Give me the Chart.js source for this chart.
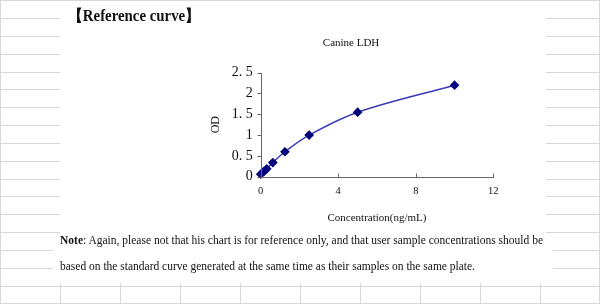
<!DOCTYPE html>
<html>
<head>
<meta charset="utf-8">
<script src="https://cdn.jsdelivr.net/npm/chart.js@4/dist/chart.umd.min.js"></script>
<style>
  html, body { margin: 0; padding: 0; background: #fff; }
  #page { position: relative; width: 600px; height: 304px; overflow: hidden; background: #fff; }
  .hl { position: absolute; height: 1px; background: #d8d8d8; }
  .vl { position: absolute; width: 1px; background: #d8d8d8; }
  #chartBox { position: absolute; left: 0; top: 0; width: 600px; height: 304px; }
  .txt { position: absolute; white-space: nowrap; font-family: "Liberation Serif", "Times New Roman", serif; color: #111; transform-origin: 0 50%; }
  #heading { left: 68px; top: 6px; font-size: 16px; font-weight: bold; }
  #note1 { left: 60px; top: 232px; font-size: 13.5px; }
  #note2 { left: 60px; top: 258px; font-size: 13.5px; }
</style>
</head>
<body>
<div id="page">
  <div id="grid"></div>
  <div id="chartBox"><canvas id="c" width="600" height="304"></canvas></div>
  <div class="txt" id="heading">【Reference curve】</div>
  <div class="txt" id="note1"><b>Note</b>: Again, please not that his chart is for reference only, and that user sample concentrations should be</div>
  <div class="txt" id="note2">based on the standard curve generated at the same time as their samples on the same plate.</div>
</div>
<script>
// ---- data ----
const concentrations = [0, 0.156, 0.312, 0.625, 1.25, 2.5, 5, 10];
const odValues = [0.06, 0.12, 0.19, 0.34, 0.60, 1.0, 1.55, 2.2];
const yTickLabels = ['0', '0. 5', '1', '1. 5', '2', '2. 5'];
const xTickLabels = ['0', '4', '8', '12'];
const chartTitle = 'Canine LDH';
const xTitle = 'Concentration(ng/mL)';
const yTitle = 'OD';

// ---- background spreadsheet grid (decoration) ----
(function () {
  const g = document.getElementById('grid');
  function add(cls, l, t, w, h) {
    const d = document.createElement('div');
    d.className = cls;
    d.style.left = l + 'px'; d.style.top = t + 'px';
    if (w != null) d.style.width = w + 'px';
    if (h != null) d.style.height = h + 'px';
    g.appendChild(d);
  }
  for (let i = 0; i < 15; i++) {
    const y = Math.round(18 + i * 17.84);
    const narrow = (i >= 13);
    add('hl', 0, y, narrow ? 53 : 60, null);
    add('hl', narrow ? 553 : 546, y, narrow ? 47 : 54, null);
  }
  add('hl', 0, 286, 600, null);
  add('hl', 0, 303, 600, null);
  add('hl', 0, 0, 600, null);
  add('vl', 0, 0, null, 304);
  add('vl', 599, 0, null, 304);
  for (let x = 60; x <= 540; x += 60) add('vl', x, 283, null, 21);
})();

// ---- fit text widths ----
function fitWidth(id, target) {
  const el = document.getElementById(id);
  const w = el.getBoundingClientRect().width;
  el.style.transform = 'scaleX(' + (target / w) + ')';
}
fitWidth('heading', 132);
fitWidth('note1', 483);
fitWidth('note2', 415);

// ---- chart ----
Chart.defaults.font.family = '"Liberation Serif", "Times New Roman", serif';
Chart.defaults.color = '#111';

const axisPlugin = {
  id: 'axisPlugin',
  afterDatasetsDraw(chart) {
    const { ctx, scales: { x, y } } = chart;
    ctx.save();
    ctx.strokeStyle = '#666';
    ctx.lineWidth = 1;
    const x0 = Math.round(x.getPixelForValue(0)) + 0.5;
    const yb = Math.round(y.getPixelForValue(0)) + 0.5;
    ctx.beginPath();
    ctx.moveTo(x0, Math.round(y.getPixelForValue(2.5)));
    ctx.lineTo(x0, yb);
    ctx.lineTo(Math.round(x.getPixelForValue(12)) + 1, yb);
    y.ticks.forEach(t => {
      const py = Math.round(y.getPixelForValue(t.value)) + 0.5;
      ctx.moveTo(x0 - 4, py); ctx.lineTo(x0, py);
    });
    x.ticks.forEach(t => {
      const px = Math.round(x.getPixelForValue(t.value)) + 0.5;
      ctx.moveTo(px, yb); ctx.lineTo(px, yb - 4);
    });
    ctx.stroke();
    ctx.restore();
  }
};

new Chart(document.getElementById('c'), {
  type: 'line',
  data: {
    datasets: [{
      data: concentrations.map((c, i) => ({ x: c, y: odValues[i] })),
      borderColor: '#3a3ab8',
      borderWidth: 1.5,
      pointStyle: 'rectRot',
      pointRadius: 3.8,
      pointBackgroundColor: '#00007a',
      pointBorderColor: '#00007a',
      tension: 0.35,
      clip: false
    }]
  },
  options: {
    responsive: false,
    animation: false,
    layout: { padding: { left: 208.8, right: 106.7, top: 36.4, bottom: 79.4 } },
    plugins: {
      legend: { display: false },
      tooltip: { enabled: false },
      title: {
        display: true, text: chartTitle,
        font: { size: 11, weight: 'normal' }, color: '#111',
        padding: { top: 0, bottom: 23.1 }
      }
    },
    scales: {
      x: {
        type: 'linear', min: 0, max: 12,
        grid: { display: false, drawTicks: false },
        border: { display: false },
        ticks: {
          stepSize: 4, padding: 8, font: { size: 10.5 }, color: '#111',
          maxRotation: 0,
          callback: (v) => { const i = [0, 4, 8, 12].indexOf(v); return i >= 0 ? xTickLabels[i] : ''; }
        },
        title: { display: true, text: xTitle, font: { size: 11 }, color: '#111', padding: 0 },
        afterFit: (s) => { s.height = 47.9; }
      },
      y: {
        min: 0, max: 2.5,
        grid: { display: false, drawTicks: false },
        border: { display: false },
        ticks: {
          stepSize: 0.5, padding: 8, font: { size: 14 }, color: '#111',
          callback: (v) => { const i = Math.round(v * 2); return yTickLabels[i]; }
        },
        title: { display: true, text: yTitle, font: { size: 12 }, color: '#111', padding: 0 },
        afterFit: (s) => { s.width = 51.9; }
      }
    }
  },
  plugins: [axisPlugin]
});
</script>
</body>
</html>
